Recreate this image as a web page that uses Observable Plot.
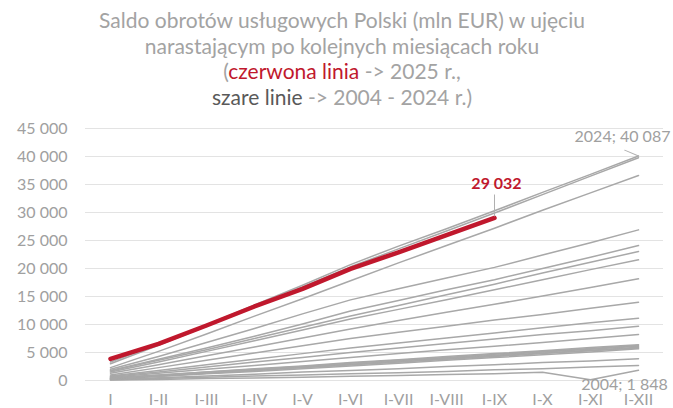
<!DOCTYPE html>
<html>
<head>
<meta charset="utf-8">
<script src="https://cdn.jsdelivr.net/npm/d3@7"></script>
<script src="https://cdn.jsdelivr.net/npm/@observablehq/plot@0.6"></script>
<style>
  html, body { margin: 0; padding: 0; background: #fff; }
  #wrap { width: 673px; height: 408px; overflow: hidden; font-family: Lato, "Open Sans", sans-serif; }
  #title { box-sizing: border-box; height: 112px; padding-top: 7px; padding-left: 11px; text-align: center;
           font-size: 21px; line-height: 25.5px; color: #a3a3a3; white-space: nowrap; }
  #title .red { color: #c0182d; }
  #title .dark { color: #595959; }
  svg { display: block; }
</style>
</head>
<body>
<div id="wrap">
  <div id="title">Saldo obrotów usługowych Polski (mln EUR) w ujęciu<br>narastającym po kolejnych miesiącach roku<br>(<span class="red">czerwona linia</span> -&gt; 2025 r.,<br><span class="dark">szare linie</span> -&gt; 2004 - 2024 r.)</div>
  <div id="chart"></div>
</div>
<script>
// Categories (cumulative months)
const months = ["I","I-II","I-III","I-IV","I-V","I-VI","I-VII","I-VIII","I-IX","I-X","I-XI","I-XII"];
// Y axis ticks
const yTicks = [0, 5000, 10000, 15000, 20000, 25000, 30000, 35000, 40000, 45000];

// 2025 (red line), through I-IX
const values2025 = [3870, 6550, 9820, 13220, 16370, 19940, 22900, 25950, 29032];

// 2004 - 2024 (grey lines)
const grayYears = [2004,2005,2006,2007,2008,2009,2010,2011,2012,2013,2014,2015,2016,2017,2018,2019,2020,2021,2022,2023,2024];
const v2004 = [100, 200, 350, 450, 600, 750, 900, 1050, 1200, 1490, 130, 1848];
const v2005 = [150, 350, 600, 800, 1000, 1200, 1400, 1600, 1900, 2100, 2400, 2680];
const v2006 = [200, 500, 800, 1100, 1500, 1800, 2100, 2500, 2800, 3200, 3500, 3870];
const v2007 = [250, 700, 1200, 1600, 2100, 2600, 3100, 3600, 4100, 4600, 5100, 5650];
const v2008 = [300, 800, 1300, 1800, 2300, 2800, 3300, 3800, 4300, 4800, 5300, 5800];
const v2009 = [350, 850, 1300, 1800, 2300, 2800, 3300, 3900, 4400, 4900, 5400, 5950];
const v2010 = [400, 900, 1400, 1900, 2400, 2900, 3500, 4000, 4500, 5100, 5600, 6100];
const v2011 = [450, 950, 1500, 2000, 2500, 3100, 3600, 4100, 4700, 5200, 5700, 6250];
const v2012 = [500, 1000, 1500, 2100, 2600, 3200, 3700, 4300, 4800, 5300, 5900, 6400];
const v2013 = [600, 1300, 2000, 2700, 3400, 4100, 4800, 5500, 6100, 6800, 7500, 8210];
const v2014 = [700, 1500, 2400, 3300, 4100, 5000, 5800, 6600, 7400, 8200, 8900, 9700];
const v2015 = [800, 1800, 2800, 3800, 4800, 5800, 6700, 7600, 8500, 9400, 10300, 11130];
const v2016 = [1000, 2300, 3600, 4900, 6200, 7500, 8600, 9700, 10800, 11800, 12900, 13980];
const v2017 = [1300, 2800, 4400, 6000, 7600, 9200, 10700, 12200, 13600, 15100, 16600, 18160];
const v2018 = [1500, 3300, 5200, 7100, 9000, 11000, 12700, 14400, 16200, 18000, 19800, 21550];
const v2019 = [1700, 3600, 5500, 7500, 9500, 11500, 13400, 15300, 17200, 19200, 21100, 23040];
const v2020 = [1800, 3800, 5800, 7900, 10100, 12400, 14300, 16200, 18000, 20000, 22000, 24100];
const v2021 = [2000, 4300, 6800, 9300, 11900, 14400, 16400, 18300, 20200, 22400, 24600, 26900];
const v2022 = [2300, 5200, 8300, 11500, 14600, 17800, 21000, 24100, 27200, 30400, 33500, 36600];
const v2023 = [3000, 6300, 9700, 13200, 16700, 20300, 23500, 26700, 29900, 33200, 36500, 39770];
const v2024 = [3300, 6500, 9900, 13500, 17000, 20700, 24000, 27100, 30300, 33600, 36800, 40087];
const grayValues = [v2004,v2005,v2006,v2007,v2008,v2009,v2010,v2011,v2012,v2013,v2014,v2015,v2016,v2017,v2018,v2019,v2020,v2021,v2022,v2023,v2024];

// Data labels
const labelRed = [{month: "I-IX", value: 29032, text: "29 032"}];
const labelGray2024 = [{month: "I-XII", value: 40087, text: "2024; 40 087"}];
const labelGray2004 = [{month: "I-XII", value: 1848, text: "2004; 1 848"}];

// Build long tables
const grayData = grayYears.flatMap((yr, i) => grayValues[i].map((v, j) => ({year: yr, month: months[j], value: v})));
const redData = values2025.map((v, j) => ({year: 2025, month: months[j], value: v}));

const fmt = d => d3.format(",")(d).replace(/,/g, "\u00a0");
const lineShape = {draw(context, l) { context.moveTo(0, 0); context.lineTo(0, -l); }};

const chart = Plot.plot({
  width: 673,
  height: 296,
  marginTop: 16,
  marginBottom: 28,
  marginLeft: 85,
  marginRight: 10,
  style: {fontFamily: "Lato, 'Open Sans', sans-serif", fontSize: "16px", color: "#a0a0a0", background: "white", overflow: "visible"},
  x: {type: "point", domain: months, padding: 0.5},
  y: {domain: [0, 45000]},
  marks: [
    Plot.ruleY(yTicks, {stroke: "#e3e3e3", strokeWidth: 1}),
    Plot.axisY({ticks: yTicks, tickSize: 0, tickPadding: 18, tickFormat: fmt, label: null, fill: "#a0a0a0"}),
    Plot.axisX({tickSize: 0, tickPadding: 13, label: null, fill: "#a0a0a0"}),
    Plot.line(grayData, {x: "month", y: "value", z: "year", stroke: "#a8a8a8", strokeWidth: 1.5, curve: "linear"}),
    Plot.line(redData, {x: "month", y: "value", stroke: "#c0182d", strokeWidth: 4.5, strokeLinecap: "round", strokeLinejoin: "round"}),
    Plot.vector(labelRed, {x: "month", y: "value", length: 21, rotate: 0, anchor: "start", dy: -2, shape: lineShape, stroke: "#b0b0b0", strokeWidth: 1}),
    Plot.vector(labelGray2024, {x: "month", y: "value", length: 15, rotate: -67, anchor: "start", shape: lineShape, stroke: "#b0b0b0", strokeWidth: 1}),
    Plot.text(labelRed, {x: "month", y: "value", text: "text", dx: 2, dy: -34, fill: "#c0182d", fontWeight: "bold", fontSize: 16, lineAnchor: "middle"}),
    Plot.text(labelGray2024, {x: "month", y: "value", text: "text", dx: -16, dy: -19, fill: "#a0a0a0", fontSize: 16, lineAnchor: "middle"}),
    Plot.text(labelGray2004, {x: "month", y: "value", text: "text", dx: -14, dy: 15, fill: "#a0a0a0", fontSize: 16, lineAnchor: "middle"})
  ]
});
document.getElementById("chart").appendChild(chart);
</script>
</body>
</html>
